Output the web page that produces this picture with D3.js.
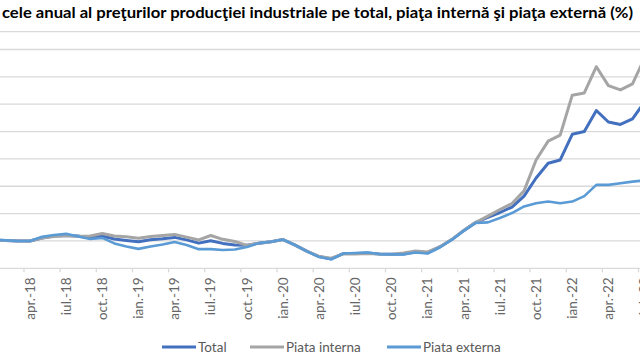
<!DOCTYPE html>
<html>
<head>
<meta charset="utf-8">
<script src="https://cdn.jsdelivr.net/npm/d3@7"></script>
<style>
  body { margin: 0; background: #fff; }
  svg { display: block; font-family: Lato, "Open Sans", sans-serif; }
</style>
</head>
<body>
<script>
const svgWidth = 640
const svgHeight = 360

// month categories, ian.-18 .. iul.-22
const monthNames = ["ian.", "feb.", "mar.", "apr.", "mai", "iun.", "iul.", "aug.", "sep.", "oct.", "nov.", "dec."]
const years = ["18", "19", "20", "21", "22"]
const months = years.flatMap(yy => monthNames.map(m => `${m}-${yy}`)).slice(0, 55)

// annual change (%)
const total = [0.4, 0.2, 0.0, 0.0, 1.1, 1.8, 2.0, 1.8, 1.1, 1.8, 0.7, 0.2,
    -0.3, 0.4, 0.8, 1.3, 0.4, -0.8, 0.1, -0.9, -1.5, -1.6, -0.8, -0.3,
    0.5, -1.5, -3.8, -5.7, -6.6, -4.6, -4.6, -4.4, -4.8, -4.9, -4.8, -4.0,
    -4.3, -2.2, 0.5, 3.8, 6.8, 8.6, 10.4, 12.4, 16.4, 23.0, 28.4, 29.6,
    39.0, 40.0, 47.7, 43.5, 42.6, 44.6, 50.8]
const internal = [0.2, 0.2, 0.0, 0.0, 1.1, 1.6, 2.0, 1.6, 1.8, 2.7, 1.8, 1.5,
    1.0, 1.6, 2.0, 2.4, 1.4, 0.4, 2.0, 0.6, -0.2, -1.6, -0.8, -0.3,
    0.5, -1.5, -3.8, -5.7, -6.3, -4.7, -4.8, -4.6, -4.8, -4.9, -4.4, -3.7,
    -4.0, -2.2, 0.5, 3.8, 6.8, 9.1, 11.5, 13.7, 18.3, 29.6, 36.5, 38.7,
    53.3, 54.1, 63.7, 56.8, 55.2, 57.4, 66.9]
const external = [0.4, 0.2, 0.0, 0.0, 1.5, 2.2, 2.6, 1.6, 0.7, 1.1, -0.9, -2.0,
    -2.9, -2.0, -1.3, -0.4, -1.5, -3.0, -3.0, -3.3, -3.1, -2.2, -0.8, -0.3,
    0.5, -1.5, -3.8, -5.9, -6.7, -4.6, -4.4, -4.2, -4.8, -4.9, -4.9, -4.2,
    -4.6, -2.4, 0.4, 3.7, 6.6, 6.8, 8.4, 10.2, 12.6, 13.8, 14.4, 13.8,
    14.4, 16.4, 20.5, 20.5, 21.1, 21.7, 22.1]

const seriesNames = ["Total", "Piata interna", "Piata externa"]
const seriesColors = ["#4270bf", "#a5a5a5", "#5b9bd5"]
const seriesWidths = [3, 3, 2.6]

const yTicks = [-10, 0, 10, 20, 30, 40, 50, 60, 70]
const yMax = 76.5

const title = "cele anual al preţurilor producţiei industriale pe total, piaţa internă şi piaţa externă (%)"

const margin = { top: 31.7, bottom: 268.3 }
const step = 12.05
const xStart = 30 - 3.5 * step

const svg = d3.select("body").append("svg")
    .attr("width", svgWidth)
    .attr("height", svgHeight)

const x = d3.scaleBand()
    .domain(months)
    .range([xStart, xStart + months.length * step])
    .padding(0)

const y = d3.scaleLinear()
    .domain([yTicks[0], yMax])
    .range([margin.bottom, margin.top])

// title (cut off on the left like the source image)
svg.append("text")
    .attr("x", 2)
    .attr("y", 18)
    .attr("font-size", 16)
    .attr("font-weight", "bold")
    .attr("fill", "#000")
    .attr("textLength", 631)
    .attr("lengthAdjust", "spacingAndGlyphs")
    .text(title)

// gridlines
svg.append("g")
    .selectAll("line")
    .data(yTicks.concat([yMax]))
    .join("line")
    .attr("x1", 0)
    .attr("x2", svgWidth)
    .attr("y1", d => y(d))
    .attr("y2", d => y(d))
    .attr("stroke", "#d9d9d9")
    .attr("stroke-width", 1.3)

// tick marks between categories, every quarter
const quarterMonths = months.filter((m, i) => i % 3 === 0)

svg.append("g")
    .selectAll("line")
    .data(quarterMonths)
    .join("line")
    .attr("x1", d => x(d))
    .attr("x2", d => x(d))
    .attr("y1", y(yTicks[0]))
    .attr("y2", y(yTicks[0]) + 4)
    .attr("stroke", "#d9d9d9")
    .attr("stroke-width", 1.3)

const xAxis = d3.axisBottom(x)
    .tickValues(quarterMonths)
    .tickSize(0)

const axisG = svg.append("g")
    .attr("transform", `translate(0, ${y(yTicks[0])})`)
    .call(xAxis)

axisG.select(".domain").remove()
axisG.selectAll("text")
    .attr("transform", "rotate(-90)")
    .attr("x", -9)
    .attr("y", 0)
    .attr("dy", "0.35em")
    .attr("text-anchor", "end")
    .attr("font-family", "Lato, sans-serif")
    .attr("font-size", 13.5)
    .attr("fill", "#666")

// lines
const seriesData = [total, internal, external]

const line = d3.line()
    .x((d, i) => x(months[i]) + x.bandwidth() / 2)
    .y(d => y(d))

seriesData.forEach((values, k) => {
    svg.append("path")
        .attr("d", line(values))
        .attr("fill", "none")
        .attr("stroke", seriesColors[k])
        .attr("stroke-width", seriesWidths[k])
        .attr("stroke-linejoin", "round")
        .attr("stroke-linecap", "round")
})

// legend
const legendX = [162, 250, 387]
const legend = svg.append("g")
    .attr("transform", "translate(0, 347)")

seriesNames.forEach((name, k) => {
    legend.append("line")
        .attr("x1", legendX[k])
        .attr("x2", legendX[k] + 34)
        .attr("stroke", seriesColors[k])
        .attr("stroke-width", 3)
    legend.append("text")
        .attr("x", legendX[k] + 36)
        .attr("dy", "0.35em")
        .attr("font-size", 13.5)
        .attr("fill", "#595959")
        .text(name)
})
</script>
</body>
</html>
